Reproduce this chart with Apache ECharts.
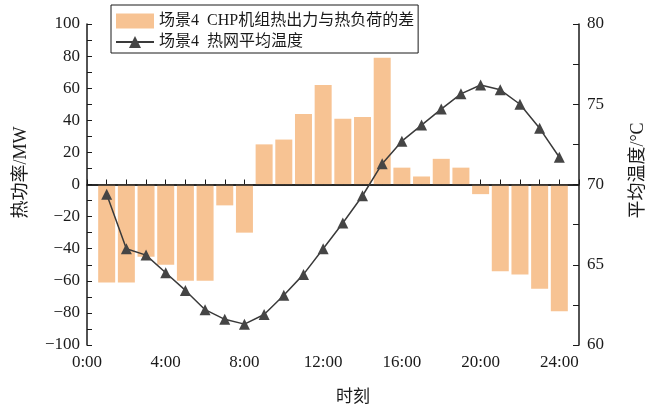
<!DOCTYPE html>
<html>
<head>
<meta charset="utf-8">
<script src="https://cdn.jsdelivr.net/npm/echarts@6/dist/echarts.min.js"></script>
<style>
  html, body { margin: 0; padding: 0; background: #fff; }
  #chart { width: 658px; height: 412px; }
</style>
</head>
<body>
<div id="chart"></div>
<script>
// 小时
var hours = [1, 2, 3, 4, 5, 6, 7, 8, 9, 10, 11, 12, 13, 14, 15, 16, 17, 18, 19, 20, 21, 22, 23, 24];
// CHP机组热出力与热负荷的差 (MW)
var heatDiff = [-61, -61, -45, -50, -60, -60, -13, -30, 25, 28, 44, 62, 41, 42, 79, 10.5, 5, 16, 10.5, -6, -54, -56, -65, -79];
// 热网平均温度 (°C)
var avgTemp = [69.4, 66.0, 65.6, 64.5, 63.4, 62.2, 61.6, 61.3, 61.9, 63.1, 64.4, 66.0, 67.6, 69.3, 71.3, 72.7, 73.7, 74.7, 75.65, 76.2, 75.9, 75.0, 73.5, 71.7];

var barName = '场景4  CHP机组热出力与热负荷的差';
var lineName = '场景4  热网平均温度';

var fontFamily = "'Liberation Serif', 'Noto Sans CJK SC'";
var black = '#1a1a1a';

function pairs (xs, ys) {
  return xs.map(function (x, i) { return [x, ys[i]]; });
}

var chart = echarts.init(document.getElementById('chart'));
var option = {
  animation: false,
  textStyle: { fontFamily: fontFamily },
  grid: { left: 87, right: 79, top: 24, bottom: 67, outerBoundsMode: 'none', containLabel: false },
  legend: {
    orient: 'vertical',
    left: 111,
    top: 5,
    padding: [8, 4, 3, 4],
    itemGap: 5,
    itemWidth: 38,
    itemHeight: 15,
    borderColor: black,
    borderWidth: 1,
    textStyle: { fontFamily: fontFamily, fontSize: 16, color: black },
    data: [{ name: barName, icon: 'rect' }, { name: lineName }]
  },
  xAxis: {
    type: 'value',
    min: 0,
    max: 25,
    interval: 1,
    name: '时刻',
    nameLocation: 'middle',
    nameGap: 44,
    nameTextStyle: { fontFamily: fontFamily, fontSize: 17, color: black, padding: [0, 0, 0, 40] },
    axisLine: { lineStyle: { color: black, width: 1.5 } },
    axisTick: { inside: true, length: 5, lineStyle: { color: black } },
    axisLabel: {
      margin: 9,
      fontSize: 17,
      color: black,
      fontFamily: fontFamily,
      formatter: function (v) { return v % 4 === 0 ? v + ':00' : ''; }
    },
    splitLine: { show: false }
  },
  yAxis: [{
    type: 'value',
    min: -100,
    max: 100,
    interval: 20,
    name: '热功率/MW',
    nameLocation: 'middle',
    nameRotate: 90,
    nameGap: 57,
    nameTextStyle: { fontFamily: fontFamily, fontSize: 18, color: black, padding: [0, 0, 0, 24] },
    axisLine: { show: true, lineStyle: { color: black, width: 1.5 } },
    axisTick: { inside: true, length: 5, lineStyle: { color: black } },
    minorTick: { show: true, splitNumber: 2, length: 5, lineStyle: { color: black } },
    axisLabel: {
      margin: 7, fontSize: 17, color: black, fontFamily: fontFamily,
      formatter: function (v) { return String(v).replace('-', '\u2212'); }
    },
    splitLine: { show: false }
  }, {
    type: 'value',
    min: 60,
    max: 80,
    interval: 5,
    position: 'right',
    name: '平均温度/°C',
    nameLocation: 'middle',
    nameRotate: 90,
    nameGap: 50,
    nameTextStyle: { fontFamily: fontFamily, fontSize: 18, color: black, padding: [0, 0, 0, 28] },
    axisLine: { show: true, lineStyle: { color: black, width: 1.5 } },
    axisTick: { inside: true, length: 6, lineStyle: { color: black } },
    minorTick: { show: true, splitNumber: 2, length: 6, lineStyle: { color: black } },
    axisLabel: { margin: 8, fontSize: 17, color: black, fontFamily: fontFamily },
    splitLine: { show: false }
  }],
  series: [{
    name: barName,
    type: 'bar',
    data: pairs(hours, heatDiff),
    barWidth: 17,
    itemStyle: { color: '#f7c393' },
    markLine: {
      silent: true,
      symbol: 'none',
      label: { show: false },
      lineStyle: { color: black, width: 1.5, type: 'solid' },
      data: [{ yAxis: 0 }]
    }
  }, {
    name: lineName,
    type: 'line',
    yAxisIndex: 1,
    data: pairs(hours, avgTemp),
    symbol: 'triangle',
    symbolSize: 11,
    lineStyle: { color: '#3a3a3a', width: 1.5 },
    itemStyle: { color: '#454545' },
    z: 5
  }]
};
chart.setOption(option, true);
</script>
</body>
</html>
